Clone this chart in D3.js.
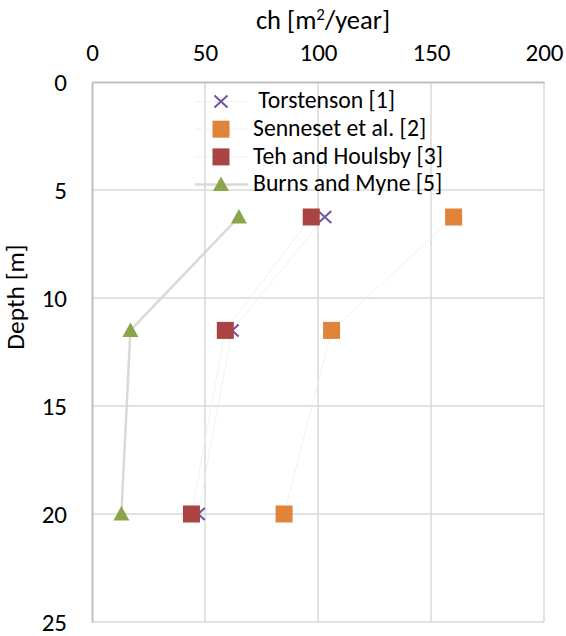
<!DOCTYPE html>
<html>
<head>
<meta charset="utf-8">
<script src="https://cdn.jsdelivr.net/npm/d3@7"></script>
<style>
  body { margin: 0; background: #fff; }
  svg text { font-family: Carlito, Calibri, "Open Sans", sans-serif; fill: #000; }
</style>
</head>
<body>
<div id="chart"></div>
<script>
// depths [m] shared by every series
const depths = [6.25, 11.5, 20];

// ch [m2/year] per series
const torstenson = [103, 62, 47];
const senneset = [160, 106, 85];
const tehHoulsby = [97, 59, 44];
const burnsMyne = [65, 17, 13];

const xTicks = [0, 50, 100, 150, 200];
const yTicks = [0, 5, 10, 15, 20, 25];

const series = [
  {name: " Torstenson [1]", values: torstenson, symbol: "cross", color: "#7153a0", line: "#ededed", lineWidth: 0.8},
  {name: "Senneset et al. [2]", values: senneset, symbol: "square", color: "#e0843a", line: "#ededed", lineWidth: 0.8},
  {name: "Teh and Houlsby [3]", values: tehHoulsby, symbol: "square", color: "#ab4342", line: "#ededed", lineWidth: 0.8},
  {name: "Burns and Myne [5]", values: burnsMyne, symbol: "triangle", color: "#8aa64a", line: "#d9d9d9", lineWidth: 2.5}
];

const width = 566, height = 636;
const margin = {top: 82, right: 22, bottom: 14, left: 92};

const svg = d3.select("#chart").append("svg")
    .attr("width", width)
    .attr("height", height);

const x = d3.scaleLinear()
    .domain([0, 200])
    .range([margin.left, width - margin.right]);

const y = d3.scaleLinear()
    .domain([0, 25])
    .range([margin.top, height - margin.bottom]);

// grid
svg.append("g")
    .selectAll("line")
    .data(xTicks.slice(1))
    .join("line")
      .attr("x1", d => x(d)).attr("x2", d => x(d))
      .attr("y1", y(0)).attr("y2", y(25))
      .attr("stroke", "#d9d9d9")
      .attr("stroke-width", 1.5);

svg.append("g")
    .selectAll("line")
    .data(yTicks.slice(1))
    .join("line")
      .attr("x1", x(0)).attr("x2", x(200))
      .attr("y1", d => y(d)).attr("y2", d => y(d))
      .attr("stroke", "#d9d9d9")
      .attr("stroke-width", 1.5);

// axes (top and left)
const xAxis = svg.append("g")
    .attr("transform", `translate(0,${y(0)})`)
    .call(d3.axisTop(x).tickValues(xTicks).tickSize(0).tickPadding(21));
xAxis.select(".domain").attr("stroke", "#bfbfbf").attr("stroke-width", 2);
xAxis.selectAll("text").attr("font-size", 25);

const yAxis = svg.append("g")
    .attr("transform", `translate(${x(0)},0)`)
    .call(d3.axisLeft(y).tickValues(yTicks).tickSize(0).tickPadding(25));
yAxis.select(".domain").attr("stroke", "#bfbfbf").attr("stroke-width", 2);
yAxis.selectAll("text").attr("font-size", 25);

// axis titles
const xTitle = svg.append("text")
    .attr("x", 323)
    .attr("y", 29)
    .attr("text-anchor", "middle")
    .attr("font-size", 26.5)
    .text("ch [m");
xTitle.append("tspan").attr("font-size", 17).attr("dy", -9).text("2");
xTitle.append("tspan").attr("dy", 9).text("/year]");

svg.append("text")
    .attr("transform", "translate(24,297) rotate(-90)")
    .attr("text-anchor", "middle")
    .attr("font-size", 25.5)
    .text("Depth [m]");

// marker drawing
function drawMarker(g, s, cx, cy) {
  if (s.symbol === "cross") {
    g.append("path")
        .attr("d", "M-6.5,-6L6.5,6M-6.5,6L6.5,-6")
        .attr("transform", `translate(${cx},${cy})`)
        .attr("fill", "none")
        .attr("stroke", s.color)
        .attr("stroke-width", 2);
  } else if (s.symbol === "square") {
    g.append("rect")
        .attr("x", cx - 8.5).attr("y", cy - 8.5)
        .attr("width", 17).attr("height", 17)
        .attr("fill", s.color);
  } else {
    g.append("path")
        .attr("d", "M0,-8L8,6.5L-8,6.5Z")
        .attr("transform", `translate(${cx},${cy})`)
        .attr("fill", s.color);
  }
}

const line = d3.line()
    .x(d => x(d[0]))
    .y(d => y(d[1]));

// lines first, then markers, in series order
series.forEach(s => {
  svg.append("path")
      .datum(s.values.map((v, i) => [v, depths[i]]))
      .attr("d", line)
      .attr("fill", "none")
      .attr("stroke", s.line)
      .attr("stroke-width", s.lineWidth);
});

series.forEach(s => {
  const g = svg.append("g");
  s.values.forEach((v, i) => drawMarker(g, s, x(v), y(depths[i])));
});

// legend
const legend = svg.append("g");
series.forEach((s, i) => {
  const cy = 101.5 + i * 27.7;
  legend.append("line")
      .attr("x1", 195).attr("x2", 248)
      .attr("y1", cy).attr("y2", cy)
      .attr("stroke", s.line)
      .attr("stroke-width", s.lineWidth);
  drawMarker(legend, s, 221, cy);
  legend.append("text")
      .attr("x", 253)
      .attr("y", cy + 6.8)
      .attr("font-size", 23.7)
      .style("white-space", "pre")
      .text(s.name);
});
</script>
</body>
</html>
